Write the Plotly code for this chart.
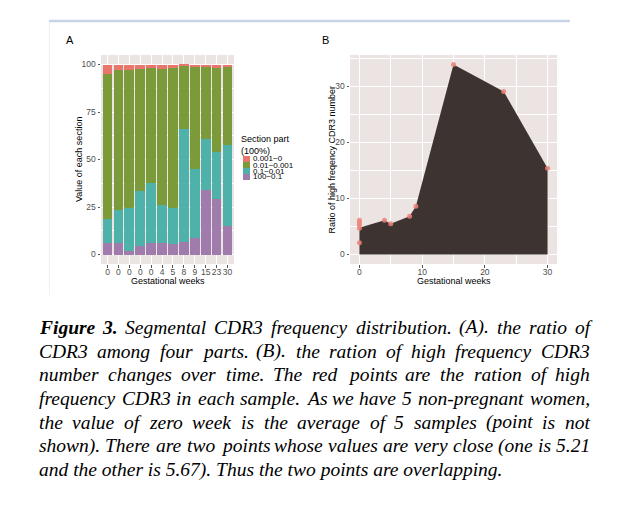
import plotly.graph_objects as go

# The page body has an 8px default margin, so the figure is 8px smaller and
# all reference pixel coordinates are shifted by 8px.
OFF = 8
W, H = 631 - OFF, 511 - OFF


def px(x):
    return (x - OFF) / W


def py(y):
    return 1 - (y - OFF) / H


# ---------------- Panel A data ----------------
bar_labels = ["0", "0", "0", "0", "0", "4", "5", "8", "9", "15", "23", "30"]
bar_pos = [1, 2, 3, 4, 5, 6, 7, 8, 9, 10, 11, 12]
part_100_01 = [6.3, 5.8, 1.9, 4.5, 5.8, 6.1, 5.4, 6.6, 8.6, 33.7, 29.0, 15.2]
part_01_001 = [12.5, 17.4, 22.7, 28.8, 31.7, 19.9, 19.2, 59.5, 36.4, 26.9, 25.1, 42.6]
part_001_0001 = [76.3, 73.8, 72.4, 64.3, 60.8, 71.7, 73.7, 33.2, 53.6, 38.2, 44.3, 41.0]
part_0001_0 = [4.9, 3.0, 3.0, 2.4, 1.7, 2.3, 1.7, 0.7, 1.4, 1.2, 1.6, 1.2]
legend_labels = ["0.001~0", "0.01~0.001", "0.1~0.01", "100~0.1"]
y_ticks_a = [0, 25, 50, 75, 100]

# ---------------- Panel B data ----------------
sample_weeks = [0, 0, 0, 0, 0, 4, 5, 8, 9, 15, 23, 30]
sample_ratio = [2.1, 4.7, 5.21, 5.67, 6.1, 6.1, 5.5, 6.8, 8.6, 33.9, 29.1, 15.4]
curve_weeks = [0, 4, 5, 8, 9, 15, 23, 30]
curve_ratio = [4.76, 6.1, 5.5, 6.8, 8.6, 33.9, 29.1, 15.4]
ticks_b = [0, 10, 20, 30]

# ---------------- styles ----------------
C_RED = "#E8766C"
C_GREEN = "#7B9A3A"
C_TEAL = "#4EB2AA"
C_PURPLE = "#A07CAD"
PANEL_BG = "#ECE4E3"
AREA = "#3D3432"
TICK_C = "#4D4D4D"
SANS = "Liberation Sans, Arial, sans-serif"
SERIF = "Liberation Serif, Times New Roman, serif"

fig = go.Figure()

for vals, col, name in [
    (part_100_01, C_PURPLE, legend_labels[3]),
    (part_01_001, C_TEAL, legend_labels[2]),
    (part_001_0001, C_GREEN, legend_labels[1]),
    (part_0001_0, C_RED, legend_labels[0]),
]:
    fig.add_trace(go.Bar(x=bar_pos, y=vals, width=0.9, name=name,
                         marker=dict(color=col, line=dict(width=0)),
                         xaxis="x", yaxis="y", showlegend=False))

fig.add_trace(go.Scatter(x=curve_weeks, y=curve_ratio, mode="lines", fill="tozeroy",
                         fillcolor=AREA, line=dict(width=0, color=AREA),
                         xaxis="x2", yaxis="y2", showlegend=False))
fig.add_trace(go.Scatter(x=sample_weeks, y=sample_ratio, mode="markers",
                         marker=dict(size=5, color="rgba(236,130,120,0.85)"),
                         xaxis="x2", yaxis="y2", showlegend=False))

axis_common = dict(showgrid=True, gridcolor="white", gridwidth=1, zeroline=False,
                   ticks="outside", ticklen=2.5, tickwidth=1, tickcolor="#555555",
                   tickfont=dict(family=SANS, size=8.5, color=TICK_C), showline=False,
                   automargin=False, tickangle=0)

fig.update_layout(
    width=W, height=H, margin=dict(l=0, r=0, t=0, b=0),
    paper_bgcolor="white", plot_bgcolor=PANEL_BG, barmode="stack", bargap=0.1,
    xaxis=dict(axis_common, domain=[px(101), px(234)], range=[0.4, 12.6],
               tickmode="array", tickvals=bar_pos, ticktext=bar_labels, anchor="y",
               ticklabelstandoff=-3),
    yaxis=dict(axis_common, domain=[py(264), py(55)], range=[-5, 105],
               tickmode="array", tickvals=y_ticks_a, anchor="x",
               minor=dict(tickvals=[12.5, 37.5, 62.5, 87.5], showgrid=True,
                          gridcolor="white", gridwidth=0.5, ticks="")),
    xaxis2=dict(axis_common, domain=[px(350), px(557)], range=[-1.5, 31.5],
                tickmode="array", tickvals=ticks_b, anchor="y2", ticklabelstandoff=-3,
                minor=dict(tickvals=[5, 15, 25], showgrid=True, gridcolor="white",
                           gridwidth=0.5, ticks="")),
    yaxis2=dict(axis_common, domain=[py(264), py(55)], range=[-1.7, 35.6],
                tickmode="array", tickvals=ticks_b, anchor="x2",
                minor=dict(tickvals=[5, 15, 25, 35], showgrid=True, gridcolor="white",
                           gridwidth=0.5, ticks="")),
)

shapes = []
annotations = []


def note(text, x, y, size, xanchor="center", yanchor="middle", angle=0, family=SANS,
         color="black", align="center"):
    annotations.append(dict(text=text, x=px(x), y=py(y), xref="paper", yref="paper",
                            showarrow=False, xanchor=xanchor, yanchor=yanchor,
                            textangle=angle, borderpad=0, align=align,
                            font=dict(family=family, size=size, color=color)))


# axis titles
note("Gestational weeks", 167.5, 281, 9)
note("Value of each section", 78.5, 159.5, 9, angle=-90)
note("Gestational weeks", 453.5, 281, 9)
note("Ratio of high freqency CDR3 number", 331, 159.5, 9, angle=-90)

# top decorative rule
shapes.append(dict(type="line", xref="paper", yref="paper", x0=px(49), x1=px(570),
                   y0=py(21), y1=py(21), line=dict(color="#C7D4E4", width=2.5)))
shapes.append(dict(type="line", xref="paper", yref="paper", x0=px(49.5), x1=px(49.5),
                   y0=py(22), y1=py(295), line=dict(color="#EEF2F7", width=1)))

# panel letters
note("A", 70, 40, 11)
note("B", 325, 40, 11)

# legend for panel A
note("Section part<br>(100%)", 240, 132.5, 9, xanchor="left", yanchor="top", align="left")
leg_cols = [C_RED, C_GREEN, C_TEAL, C_PURPLE]
for i, (lab, col) in enumerate(zip(legend_labels, leg_cols)):
    top = 156 + 6 * i
    shapes.append(dict(type="rect", xref="paper", yref="paper", x0=px(243), x1=px(250),
                       y0=py(top), y1=py(top + 6), fillcolor=col, line=dict(width=0)))
    note(lab, 252, top + 3, 8, xanchor="left")

# ---------------- caption (justified) ----------------
caption_lines = [
    "Figure 3. Segmental CDR3 frequency distribution. (A). the ratio of",
    "CDR3 among four parts. (B). the ration of high frequency CDR3",
    "number changes over time. The red points are the ration of high",
    "frequency CDR3 in each sample. As we have 5 non-pregnant women,",
    "the value of zero week is the average of 5 samples (point is not",
    "shown). There are two points whose values are very close (one is 5.21",
    "and the other is 5.67). Thus the two points are overlapping.",
]
TI = {' ': 250, '(': 333, ')': 333, ',': 250, '-': 333, '.': 250, 'A': 611, 'B': 611,
      'C': 667, 'D': 722, 'R': 611, 'S': 500, 'T': 556, 'a': 500, 'b': 500, 'c': 444,
      'd': 500, 'e': 444, 'f': 278, 'g': 500, 'h': 500, 'i': 278, 'k': 444, 'l': 278,
      'm': 722, 'n': 500, 'o': 500, 'p': 500, 'q': 500, 'r': 389, 's': 389, 't': 278,
      'u': 500, 'v': 444, 'w': 667, 'y': 444, 'z': 389}
for d in "0123456789":
    TI[d] = 500
TBI = dict(TI)
TBI.update({'F': 667, 'u': 556})
FS = 19.5
CAP_L, CAP_R = 38, 589


def wwidth(word, bold):
    tbl = TBI if bold else TI
    return sum(tbl.get(c, 500) for c in word) / 1000 * FS


for li, line in enumerate(caption_lines):
    yc = 329.3 + 23.7 * li - 2
    words = line.split(" ")
    if li == len(caption_lines) - 1:
        note("<i>" + line + "</i>", CAP_L, yc, FS, xanchor="left", family=SERIF)
        continue
    bolds = [li == 0 and wi < 2 for wi in range(len(words))]
    widths = [wwidth(w, b) for w, b in zip(words, bolds)]
    gap = (CAP_R - CAP_L - sum(widths)) / (len(words) - 1)
    xcur = CAP_L
    for w, b, wd in zip(words, bolds, widths):
        txt = "<b><i>" + w + "</i></b>" if b else "<i>" + w + "</i>"
        note(txt, xcur, yc, FS, xanchor="left", family=SERIF)
        xcur += wd + gap

fig.update_layout(shapes=shapes, annotations=annotations)
fig.write_html("out.html")
